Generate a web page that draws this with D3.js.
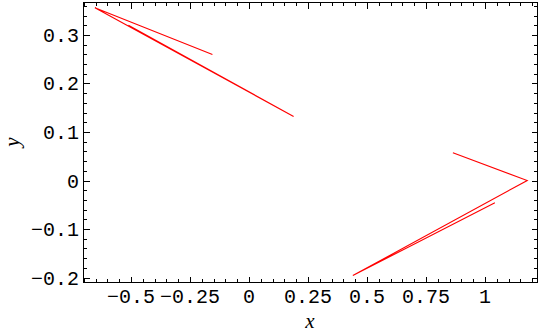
<!DOCTYPE html>
<html><head><meta charset="utf-8">
<script src="https://cdn.jsdelivr.net/npm/d3@7"></script>
<style>
html,body{margin:0;padding:0;background:#fff;}
svg{display:block;}
</style></head>
<body>
<svg id="chart" width="539" height="333"></svg>
<script>
// Data: two polylines (x, y)
const seriesAX = [-0.155, -0.653, 0.189, -0.511];
const seriesAY = [0.260, 0.356, 0.132, 0.320];
const seriesBX = [0.864, 1.179, 0.440, 1.042];
const seriesBY = [0.057, 0.000, -0.196, -0.046];

const xMajor = [-0.5, -0.25, 0, 0.25, 0.5, 0.75, 1];
const xMajorLabels = ["\u22120.5", "\u22120.25", "0", "0.25", "0.5", "0.75", "1"];
const yMajor = [-0.2, -0.1, 0, 0.1, 0.2, 0.3];
const yMajorLabels = ["\u22120.2", "\u22120.1", "0", "0.1", "0.2", "0.3"];
const xMinorStep = 0.05;
const yMinorStep = 0.02;
const xDomain = [-0.7013, 1.2225];
const yDomain = [-0.2103, 0.367];

(function () {
const svg = d3.select("#chart");
const mL = 83.5, mR = 537.5, mT = 2.5, mB = 282.5;
const x = d3.scaleLinear().domain(xDomain).range([mL, mR]);
const y = d3.scaleLinear().domain(yDomain).range([mB, mT]);

function minorTicks(domain, step, majors) {
  const out = [];
  const start = Math.ceil(domain[0] / step - 1e-9);
  const end = Math.floor(domain[1] / step + 1e-9);
  for (let i = start; i <= end; i++) {
    const v = +(i * step).toFixed(6);
    if (!majors.some(m => Math.abs(m - v) < 1e-6)) out.push(v);
  }
  return out;
}
const xMinor = minorTicks(xDomain, xMinorStep, xMajor);
const yMinor = minorTicks(yDomain, yMinorStep, yMajor);

const majorLen = 6, minorLen = 3.5;
const tickG = svg.append("g").attr("stroke", "#000").attr("stroke-width", 1).attr("shape-rendering", "crispEdges");
[[xMajor, majorLen], [xMinor, minorLen]].forEach(([vals, len]) => {
  vals.forEach(v => {
    const px = Math.round(x(v)) + 0.5;
    tickG.append("line").attr("x1", px).attr("x2", px).attr("y1", mB).attr("y2", mB - len);
    tickG.append("line").attr("x1", px).attr("x2", px).attr("y1", mT).attr("y2", mT + len);
  });
});
[[yMajor, majorLen], [yMinor, minorLen]].forEach(([vals, len]) => {
  vals.forEach(v => {
    const py = Math.round(y(v)) + 0.5;
    tickG.append("line").attr("y1", py).attr("y2", py).attr("x1", mL).attr("x2", mL + len);
    tickG.append("line").attr("y1", py).attr("y2", py).attr("x1", mR).attr("x2", mR - len);
  });
});

svg.append("rect").attr("x", mL).attr("y", mT).attr("width", mR - mL).attr("height", mB - mT)
  .attr("fill", "none").attr("stroke", "#000").attr("stroke-width", 1).attr("shape-rendering", "crispEdges");

const labelFont = "'Liberation Mono', 'Courier New', monospace";
svg.append("g").selectAll("text").data(xMajor).join("text")
  .attr("x", d => x(d)).attr("y", 303)
  .attr("text-anchor", "middle")
  .attr("font-family", labelFont).attr("font-size", 20).attr("fill", "#000")
  .text((d, i) => xMajorLabels[i]);
svg.append("g").selectAll("text").data(yMajor).join("text")
  .attr("x", 79).attr("y", d => y(d)).attr("dy", "0.35em")
  .attr("text-anchor", "end")
  .attr("font-family", labelFont).attr("font-size", 20).attr("fill", "#000")
  .text((d, i) => yMajorLabels[i]);

svg.append("text").attr("x", 310).attr("y", 328).attr("text-anchor", "middle")
  .attr("font-family", "'Liberation Serif', 'Times New Roman', serif").attr("font-style", "italic")
  .attr("font-size", 21).text("x");
svg.append("text").attr("transform", "translate(19,142) rotate(-90)").attr("text-anchor", "middle")
  .attr("font-family", "'Liberation Serif', 'Times New Roman', serif").attr("font-style", "italic")
  .attr("font-size", 21).text("y");

const line = d3.line().x(d => x(d[0])).y(d => y(d[1]));
[[seriesAX, seriesAY], [seriesBX, seriesBY]].forEach(([xs, ys]) => {
  svg.append("path").datum(xs.map((v, i) => [v, ys[i]]))
    .attr("d", line).attr("fill", "none").attr("stroke", "#ff0000").attr("stroke-width", 1.1);
});
})();
</script>
</body></html>
